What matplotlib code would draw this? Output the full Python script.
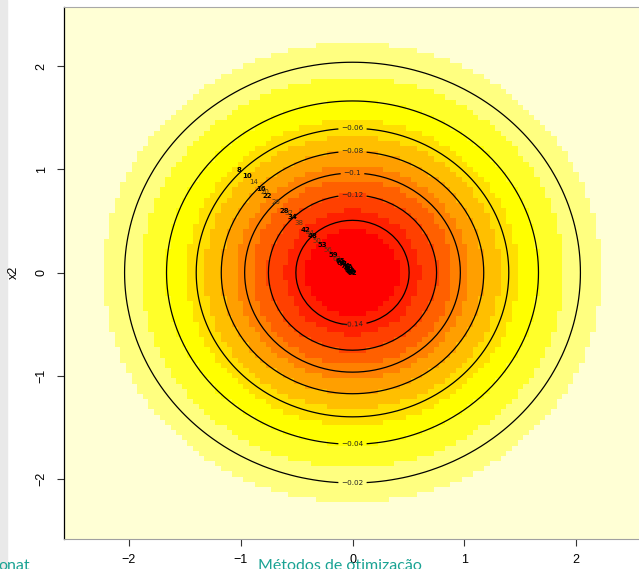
import numpy as np
import matplotlib
matplotlib.use("Agg")
import matplotlib.pyplot as plt
from matplotlib.colors import ListedColormap, BoundaryNorm
from matplotlib.patches import Rectangle

# -------------------------------------------------------------
# Surface: f(x1, x2) = -dnorm(x1) * dnorm(x2) on a regular grid
# -------------------------------------------------------------
grid_step = 0.05
grid_lim = 2.55

contour_levels = [-0.14, -0.12, -0.10, -0.08, -0.06, -0.04, -0.02]
contour_text = ["\u22120.14", "\u22120.12", "\u22120.1", "\u22120.08",
                "\u22120.06", "\u22120.04", "\u22120.02"]
label_on_top = [False, True, True, True, True, False, False]

# R heat.colors(12)
heat_colors = ["#FF0000", "#FF2000", "#FF4000", "#FF6000", "#FF8000", "#FF9F00",
               "#FFBF00", "#FFDF00", "#FFFF00", "#FFFF2A", "#FFFF80", "#FFFFD5"]

# iterates of the descent path
path_x1 = [-1.01, -0.94, -0.88, -0.82, -0.78, -0.76, -0.68, -0.61, -0.57, -0.54,
           -0.48, -0.42, -0.38, -0.36, -0.32, -0.27, -0.22, -0.17, -0.14,
           -0.11, -0.095, -0.08, -0.065, -0.05, -0.04, -0.03, -0.02, -0.01, 0.0]
path_x2 = [0.99, 0.94, 0.88, 0.81, 0.78, 0.74, 0.68, 0.60, 0.58, 0.54,
           0.48, 0.41, 0.38, 0.35, 0.31, 0.27, 0.22, 0.17, 0.135,
           0.11, 0.095, 0.08, 0.065, 0.05, 0.04, 0.03, 0.02, 0.01, 0.0]
path_lab = ["8", "10", "14", "16", "20", "22", "26", "28", "32", "34",
            "38", "42", "44", "48", "50", "53", "56", "59", "62",
            "65", "68", "71", "74", "77", "80", "83", "86", "89", "92"]
path_dark = [True, True, False, True, False, True, False, True, False, True,
             False, True, False, True, False, True, False, True, False,
             True, True, True, True, True, True, True, True, True, True]

xticks = [-2, -1, 0, 1, 2]
yticks = [-2, -1, 0, 1, 2]

W, H = 639, 569
fig = plt.figure(figsize=(W / 100, H / 100), dpi=100)

# light strip at the left edge of the slide
fig.patches.append(Rectangle((0, 0), 7 / W, 1, transform=fig.transFigure,
                             color="#e9e9e9", zorder=0))

ax = fig.add_axes([64.4 / W, 1 - 538.5 / H, (640.6 - 64.4) / W, (538.5 - 6.7) / H])

g = np.arange(-grid_lim, grid_lim + grid_step / 2, grid_step)
X1, X2 = np.meshgrid(g, g)
Z = -np.exp(-(X1 ** 2 + X2 ** 2) / 2) / (2 * np.pi)

bounds = np.linspace(Z.min(), Z.max(), len(heat_colors) + 1)
cmap = ListedColormap(heat_colors)
norm = BoundaryNorm(bounds, cmap.N)
ax.pcolormesh(X1, X2, Z, cmap=cmap, norm=norm, shading="nearest", zorder=1)

cs = ax.contour(X1, X2, Z, levels=contour_levels, colors="black",
                linewidths=0.9, linestyles="solid", zorder=2)
fmt = dict(zip(cs.levels, contour_text))
# label each ring at its top or bottom point
manual = []
for lev, top in zip(contour_levels, label_on_top):
    r = np.sqrt(-2 * np.log(-lev * 2 * np.pi))
    manual.append((0.0, r if top else -r))
ax.clabel(cs, fmt=fmt, manual=manual, fontsize=5.2, inline=True,
          inline_spacing=3, colors="#222222")

for x, y, s, dark in zip(path_x1, path_x2, path_lab, path_dark):
    ax.text(x, y, s, ha="center", va="center", zorder=4,
            fontsize=5.0 if dark else 5.0,
            color="black" if dark else "#4a3818",
            fontweight="bold" if dark else "normal",
            family="DejaVu Sans")

ax.set_xlim(-2.575, 2.575)
ax.set_ylim(-2.575, 2.575)
ax.set_xticks(xticks)
ax.set_yticks(yticks)
ax.set_xticklabels([f"{t}".replace("-", "\u2212") for t in xticks],
                   family="Liberation Sans", fontsize=9)
ax.set_yticklabels([f"{t}".replace("-", "\u2212") for t in yticks],
                   family="Liberation Sans", fontsize=9, rotation=90, va="center")
ax.tick_params(axis="x", direction="out", length=5, width=0.8, color="#333333", pad=6)
ax.tick_params(axis="y", direction="out", length=5, width=0.8, color="#333333", pad=7)

ax.spines["left"].set_color("black")
ax.spines["left"].set_linewidth(0.9)
ax.spines["bottom"].set_color("#a0a0a0")
ax.spines["top"].set_color("#a8a8a8")
ax.spines["right"].set_visible(False)

fig.text(14 / W, 1 - 272 / H, "x2", rotation=90, ha="center", va="center",
         family="Liberation Sans", fontsize=9)

# slide footer, cut off by the screenshot
fig.text(258 / W, 1 - 559 / H, "Métodos de otimização", color="#1aa394",
         family="Lato", fontsize=11.5, ha="left", va="top")
fig.text(-2 / W, 1 - 559 / H, "onat", color="#1aa394",
         family="Lato", fontsize=11.5, ha="left", va="top")

fig.savefig("out.png", dpi=100)
